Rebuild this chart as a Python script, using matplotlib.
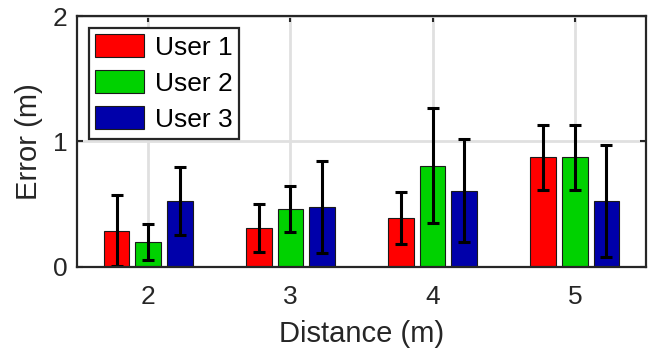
import numpy as np
import matplotlib.pyplot as plt

plt.rcParams['font.family'] = ['Liberation Sans', 'DejaVu Sans']

distances = [2, 3, 4, 5]
users = ['User 1', 'User 2', 'User 3']
means = [
    [0.29, 0.31, 0.39, 0.875],
    [0.20, 0.465, 0.808, 0.875],
    [0.527, 0.479, 0.609, 0.529],
]
errs = [
    [0.285, 0.19, 0.21, 0.26],
    [0.143, 0.183, 0.458, 0.26],
    [0.27, 0.365, 0.407, 0.447],
]
colors = ['#ff0000', '#00d200', '#0000aa']

ink = '#262626'
fig = plt.figure(figsize=(6.5, 3.54), dpi=100)
ax = fig.add_axes([0.1185, 0.2458, 0.8753, 0.709])

x = np.array(distances, dtype=float)
offset = 0.222
width = 0.18
for i in range(3):
    xi = x + (i - 1) * offset
    ax.bar(xi, means[i], width, color=colors[i], edgecolor='#1a1a1a',
           linewidth=0.8, label=users[i], zorder=3)
    ax.errorbar(xi, means[i], yerr=errs[i], fmt='none', ecolor='black',
                elinewidth=2.2, capsize=4, capthick=2.2, zorder=4)

ax.set_xlim(1.5, 5.5)
ax.set_ylim(0, 2)
ax.set_xticks(distances)
ax.set_yticks([0, 1, 2])
ax.grid(True, color='#e0e0e0', linewidth=2, zorder=0)
ax.set_axisbelow(True)
ax.tick_params(direction='in', length=4, width=1.5, colors=ink,
               labelsize=19, top=True, right=True)
ax.tick_params(axis='x', pad=13)
ax.tick_params(axis='y', pad=7)
for s in ax.spines.values():
    s.set_color(ink)
    s.set_linewidth(1.6)
    s.set_zorder(5)

ax.set_xlabel('Distance (m)', fontsize=21, color=ink, labelpad=8)
ax.set_ylabel('Error (m)', fontsize=21, color=ink, labelpad=7)

leg = ax.legend(loc='upper left', fontsize=19, frameon=True, fancybox=False,
                handlelength=1.85, handleheight=0.95, handletextpad=0.4,
                borderpad=0.25, labelspacing=0.4, borderaxespad=0.45)
leg.get_frame().set_edgecolor(ink)
leg.get_frame().set_linewidth(1.6)
leg.get_frame().set_alpha(1)

fig.savefig('out.png', dpi=100)
